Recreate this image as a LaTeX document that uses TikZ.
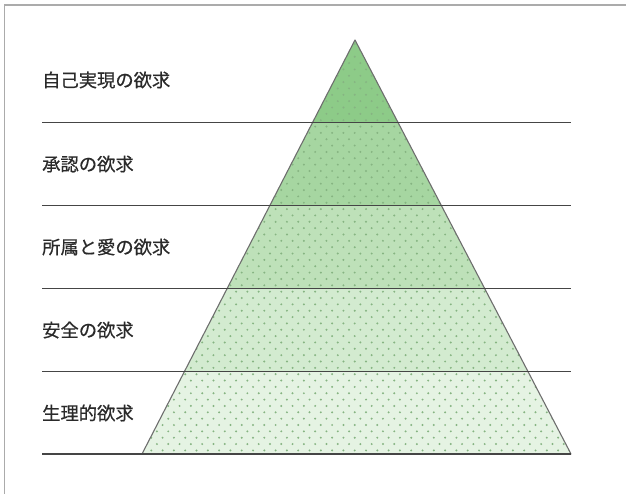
\documentclass[tikz,border=0pt]{standalone}
\usepackage{fontspec}
\newfontfamily\jp[FakeBold=0.6]{Noto Sans CJK JP}
\usetikzlibrary{calc}
\definecolor{framecol}{HTML}{ABABAB}
\definecolor{layA}{HTML}{8DCB88}
\definecolor{layB}{HTML}{A6D6A1}
\definecolor{layC}{HTML}{BEE1B9}
\definecolor{layD}{HTML}{D3EBD0}
\definecolor{layE}{HTML}{E5F3E3}
\definecolor{dotcol}{HTML}{86B482}
\definecolor{edgecol}{HTML}{6E6E6E}
\definecolor{linecol}{HTML}{454545}
\definecolor{txtcol}{HTML}{2A2A2A}
\tikzset{
  levelline/.style={draw=linecol, line width=1.1pt},
  outline/.style={draw=edgecol, line width=1.1pt, line join=round},
  label/.style={anchor=west, inner sep=0pt, text=txtcol, font=\jp\fontsize{18.3}{18.3}\selectfont},
  frame/.style={draw=framecol, line width=1.8pt}
}
\begin{document}
\begin{tikzpicture}[x=1pt,y=-1pt]
\useasboundingbox (0,0) rectangle (626,494);
\draw[frame] (4.5,494) -- (4.5,5) -- (626,5);
\coordinate (A) at (355,40);
\coordinate (BL) at (142,454);
\coordinate (BR) at (571,454);
% layers
\foreach \i/\c in {0/layA,1/layB,2/layC,3/layD,4/layE}{
  \pgfmathsetmacro\ta{\i/5}
  \pgfmathsetmacro\tb{(\i+1)/5}
  \fill[\c] ($(A)!\ta!(BL)$) -- ($(A)!\tb!(BL)$) -- ($(A)!\tb!(BR)$) -- ($(A)!\ta!(BR)$) -- cycle;
}
% dots
\begin{scope}
\clip (A) -- (BL) -- (BR) -- cycle;
\foreach \r in {0,...,64}{
  \foreach \c in {0,...,39}{
    \fill[dotcol] ({140+\c*11.3+mod(\r,2)*5.65},{44+\r*6.35}) circle (1.1);
  }
}
\end{scope}
\draw[outline] (A) -- (BL) -- (BR) -- cycle;
% level lines
\foreach \k in {1,...,5}{
  \draw[levelline] (42,{40+\k*82.8}) -- (571,{40+\k*82.8});
}
\node[label] (l1) at (42,80) {自己実現の欲求};
\node[label] (l2) at (42,164) {承認の欲求};
\node[label] (l3) at (42,247) {所属と愛の欲求};
\node[label] (l4) at (42,330) {安全の欲求};
\node[label] (l5) at (42,413) {生理的欲求};
\end{tikzpicture}
\end{document}
